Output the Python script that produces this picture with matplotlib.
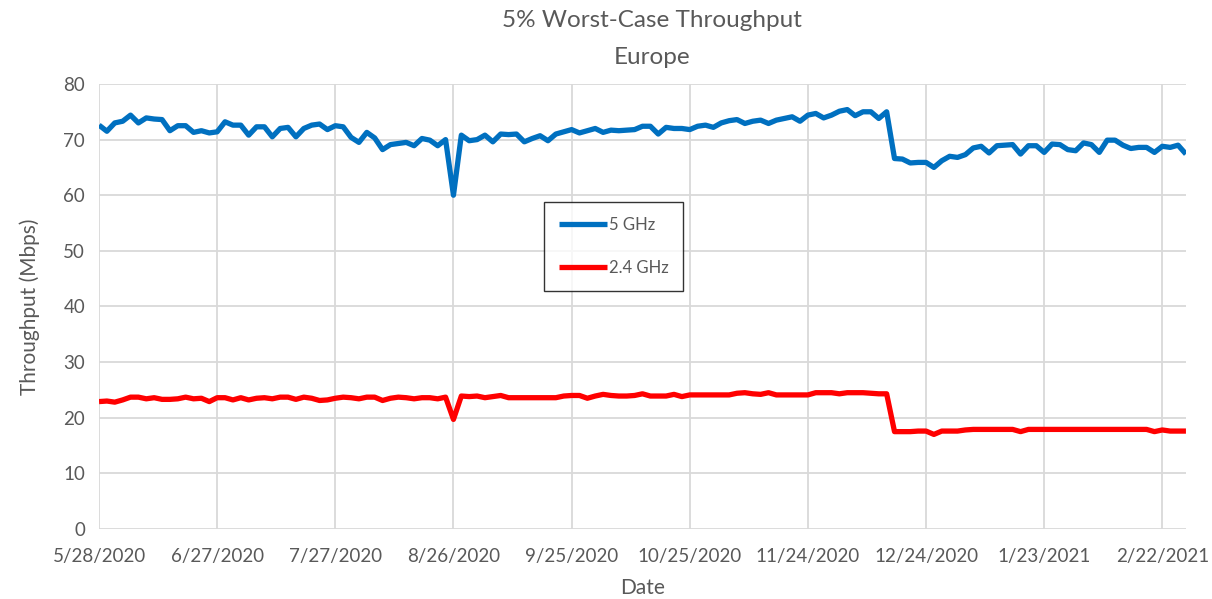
import matplotlib
matplotlib.use("Agg")
import matplotlib.pyplot as plt
import pandas as pd

start_date = "2020-05-28"
step_days = 2

ghz5 = [72.6, 71.5, 73.0, 73.3, 74.4, 73.0, 73.9, 73.7, 73.6, 71.6,
        72.5, 72.5, 71.3, 71.6, 71.2, 71.4, 73.2, 72.6, 72.6, 70.8,
        72.3, 72.3, 70.5, 72.0, 72.2, 70.5, 72.0, 72.6, 72.8, 71.8,
        72.5, 72.3, 70.4, 69.5, 71.3, 70.3, 68.2, 69.1, 69.3, 69.5,
        68.9, 70.2, 69.9, 68.9, 70.0, 60.0, 70.8, 69.8, 70.0, 70.8,
        69.6, 71.0, 70.9, 71.0, 69.6, 70.2, 70.7, 69.8, 71.0, 71.4,
        71.8, 71.2, 71.6, 72.0, 71.3, 71.7, 71.6, 71.7, 71.8, 72.4,
        72.4, 71.0, 72.2, 72.0, 72.0, 71.8, 72.4, 72.6, 72.2, 73.0,
        73.4, 73.6, 72.9, 73.3, 73.5, 72.9, 73.5, 73.8, 74.1, 73.3,
        74.4, 74.7, 73.9, 74.4, 75.1, 75.4, 74.3, 75.0, 75.0, 73.8,
        75.0, 66.6, 66.5, 65.8, 65.9, 65.9, 65.0, 66.2, 67.0, 66.8,
        67.3, 68.5, 68.8, 67.6, 68.9, 69.0, 69.1, 67.4, 68.9, 68.9,
        67.7, 69.2, 69.1, 68.2, 68.0, 69.4, 69.1, 67.7, 69.9, 69.9,
        69.0, 68.4, 68.6, 68.6, 67.7, 68.8, 68.6, 69.0, 67.4]

ghz24 = [22.9, 23.0, 22.8, 23.2, 23.7, 23.7, 23.4, 23.6, 23.3, 23.3,
         23.4, 23.7, 23.4, 23.5, 22.9, 23.6, 23.6, 23.2, 23.6, 23.2,
         23.5, 23.6, 23.4, 23.7, 23.7, 23.3, 23.7, 23.5, 23.1, 23.2,
         23.5, 23.7, 23.6, 23.4, 23.7, 23.7, 23.1, 23.5, 23.7, 23.6,
         23.4, 23.6, 23.6, 23.4, 23.7, 19.7, 23.9, 23.8, 23.9, 23.6,
         23.8, 24.0, 23.6, 23.6, 23.6, 23.6, 23.6, 23.6, 23.6, 23.9,
         24.0, 24.0, 23.5, 23.9, 24.2, 24.0, 23.9, 23.9, 24.0, 24.3,
         23.9, 23.9, 23.9, 24.2, 23.8, 24.1, 24.1, 24.1, 24.1, 24.1,
         24.1, 24.4, 24.5, 24.3, 24.2, 24.5, 24.1, 24.1, 24.1, 24.1,
         24.1, 24.5, 24.5, 24.5, 24.3, 24.5, 24.5, 24.5, 24.4, 24.3,
         24.3, 17.5, 17.5, 17.5, 17.6, 17.6, 17.0, 17.6, 17.6, 17.6,
         17.8, 17.9, 17.9, 17.9, 17.9, 17.9, 17.9, 17.5, 17.9, 17.9,
         17.9, 17.9, 17.9, 17.9, 17.9, 17.9, 17.9, 17.9, 17.9, 17.9,
         17.9, 17.9, 17.9, 17.9, 17.5, 17.8, 17.6, 17.6, 17.6]

tick_labels = ["5/28/2020", "6/27/2020", "7/27/2020", "8/26/2020", "9/25/2020",
               "10/25/2020", "11/24/2020", "12/24/2020", "1/23/2021", "2/22/2021"]
series_names = ["5 GHz", "2.4 GHz"]

dates = pd.date_range(start_date, periods=len(ghz5), freq=f"{step_days}D")
tick_dates = pd.to_datetime(tick_labels, format="%m/%d/%Y")

plt.rcParams['font.family'] = ['Lato', 'DejaVu Sans']
gray = "#595959"

fig = plt.figure(figsize=(12.12, 5.99), dpi=100)
ax = fig.add_axes([0.0817, 0.1169, 0.8968, 0.7429])

ax.plot(dates, ghz5, color="#0070C0", lw=3.8, label=series_names[0],
        solid_joinstyle="round", solid_capstyle="butt")
ax.plot(dates, ghz24, color="#FF0000", lw=3.8, label=series_names[1],
        solid_joinstyle="round", solid_capstyle="butt")

ax.set_ylim(0, 80)
ax.set_yticks(range(0, 81, 10))
ax.set_xlim(dates[0], dates[-1])
ax.set_xticks(tick_dates)
ax.set_xticklabels(tick_labels)

ax.grid(True, color="#d9d9d9", lw=1.3)
ax.set_axisbelow(True)
for s in ax.spines.values():
    s.set_visible(False)
ax.tick_params(axis="x", length=0, labelsize=13.5, colors=gray, pad=14)
ax.tick_params(axis="y", length=0, labelsize=13.5, colors=gray, pad=10)

ax.set_xlabel("Date", fontsize=15, color=gray, labelpad=9)
ax.set_ylabel("Throughput (Mbps)", fontsize=15, color=gray, labelpad=17)

fig.text(0.538, 0.965, "5% Worst-Case Throughput", ha="center", va="center",
         fontsize=17.5, color=gray)
fig.text(0.538, 0.904, "Europe", ha="center", va="center", fontsize=17.5, color=gray)

leg = ax.legend(loc="upper left", bbox_to_anchor=(0.409, 0.735), fontsize=12,
                frameon=True, fancybox=False, handlelength=2.9, labelspacing=1.6,
                borderpad=0.9, handletextpad=0.1, borderaxespad=0)
leg.get_frame().set_edgecolor("black")
leg.get_frame().set_linewidth(1.0)
for t in leg.get_texts():
    t.set_color(gray)

fig.savefig("out.png", dpi=100)
